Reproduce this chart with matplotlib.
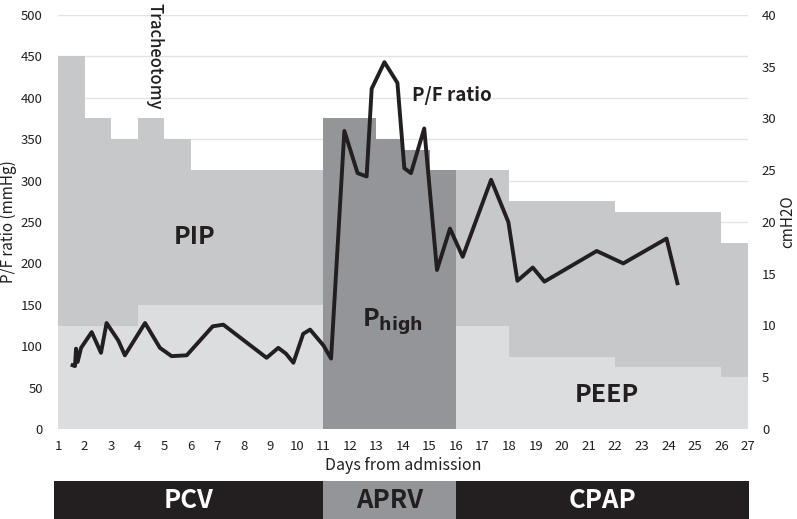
import numpy as np
import matplotlib
matplotlib.use('Agg')
import matplotlib.pyplot as plt

plt.rcParams['font.family'] = ['Noto Sans CJK JP', 'DejaVu Sans']

# ventilator settings (cmH2O), step edges in days
pip_edges = [1, 2, 3, 4, 5, 6, 11]
pip_vals = [36, 30, 28, 30, 28, 25]
peep_edges = [1, 4, 11]
peep_vals = [10, 12]
phigh_edges = [11, 13, 14, 15, 16]
phigh_vals = [30, 28, 27, 25]
cpap_edges = [16, 18, 22, 26, 27]
cpap_hi = [25, 22, 21, 18]
cpap_lo = [10, 7, 6, 5]

# P/F ratio (mmHg)
pf_day = [1.55, 1.64, 1.68, 1.74, 1.87, 2.27, 2.62, 2.83, 3.27, 3.52, 4.28, 4.84,
          5.28, 5.85, 6.83, 7.23, 8.86, 9.3, 9.59, 9.87, 10.24, 10.5, 11.0, 11.29,
          11.79, 12.29, 12.63, 12.82, 13.3, 13.79, 14.05, 14.3, 14.8, 15.28, 15.77,
          16.25, 17.32, 17.97, 18.31, 18.89, 19.33, 21.3, 22.3, 23.93, 24.34]
pf_val = [77, 76, 97, 81, 98, 117, 92, 128, 107, 89, 128, 98,
          88, 89, 124, 126, 86, 98, 91, 80, 115, 120, 101, 85,
          360, 309, 305, 411, 443, 418, 315, 309, 363, 192, 242,
          208, 301, 250, 179, 195, 178, 215, 200, 230, 176]

modes = ['PCV', 'APRV', 'CPAP']
mode_edges = [0.86, 11, 16, 27.03]

c_pip = '#c7c8ca'
c_peep = '#dcdddf'
c_high = '#939598'
c_black = '#231f20'

fig = plt.figure(figsize=(7.97, 5.19), dpi=100)
ax = fig.add_axes([58/797, 1-429/519, 690/797, 414/519])
ax2 = ax.twinx()

def steps(a, edges, vals, color):
    for i, v in enumerate(vals):
        a.bar(edges[i], v, width=edges[i+1]-edges[i], align='edge',
              color=color, linewidth=0, zorder=1)

steps(ax2, pip_edges, pip_vals, c_pip)
steps(ax2, peep_edges, peep_vals, c_peep)
steps(ax2, phigh_edges, phigh_vals, c_high)
steps(ax2, cpap_edges, cpap_hi, c_pip)
steps(ax2, cpap_edges, cpap_lo, c_peep)

ax2.set_ylim(0, 40)
ax.set_ylim(0, 500)
ax.set_xlim(1, 27)

# put the line axis on top of the fills
ax.set_zorder(ax2.get_zorder() + 1)
ax.patch.set_visible(False)
ax2.patch.set_visible(False)

for y in np.arange(50, 501, 50):
    ax2.axhline(y * 40 / 500, color='#e3e3e3', lw=1, zorder=0)

ax.plot(pf_day, pf_val, color=c_black, lw=2.8, zorder=3)

ax.set_xticks(range(1, 28))
ax.set_yticks(range(0, 501, 50))
ax2.set_yticks(range(0, 41, 5))
for a in (ax, ax2):
    a.tick_params(length=0, labelsize=9.5, colors=c_black)
    for s in a.spines.values():
        s.set_visible(False)
ax.tick_params(axis='y', pad=11)
ax2.tick_params(axis='y', pad=10)
ax.tick_params(axis='x', pad=8)

ax.set_ylabel('P/F ratio (mmHg)', fontsize=11, color=c_black, labelpad=3)
ax2.set_ylabel('cmH2O', fontsize=11, color=c_black, labelpad=2)
ax.set_xlabel('Days from admission', fontsize=11.5, color=c_black, labelpad=3)

ax.text(6.15, 232, 'PIP', fontsize=18, fontweight='bold', ha='center', va='center', color=c_black)
ax.text(21.7, 41, 'PEEP', fontsize=18, fontweight='bold', ha='center', va='center', color=c_black)
ax.text(13.6, 130, r'P$_{\mathbf{high}}$', fontsize=18, fontweight='bold', ha='center', va='center', color=c_black)
ax.text(15.85, 403, 'P/F ratio', fontsize=13.5, fontweight='bold', ha='center', va='center', color=c_black)
ax.text(4.65, 1.03, 'Tracheotomy', fontsize=12, fontweight='medium', rotation=270,
        ha='center', va='top', color=c_black, clip_on=False,
        transform=ax.get_xaxis_transform())

# mode bar
axb = fig.add_axes([54/797, 0, 695/797, 38/519])
axb.set_xlim(mode_edges[0], mode_edges[-1])
axb.set_ylim(0, 1)
axb.axis('off')
mode_colors = [c_black, c_high, c_black]
text_colors = ['white', c_black, 'white']
for i, m in enumerate(modes):
    axb.bar(mode_edges[i], 1, width=mode_edges[i+1]-mode_edges[i], align='edge',
            color=mode_colors[i], linewidth=0)
    axb.text((mode_edges[i] + mode_edges[i+1]) / 2, 0.5, m, fontsize=18.5, fontweight='bold',
             ha='center', va='center', color=text_colors[i])

fig.savefig('out.png', dpi=100)
